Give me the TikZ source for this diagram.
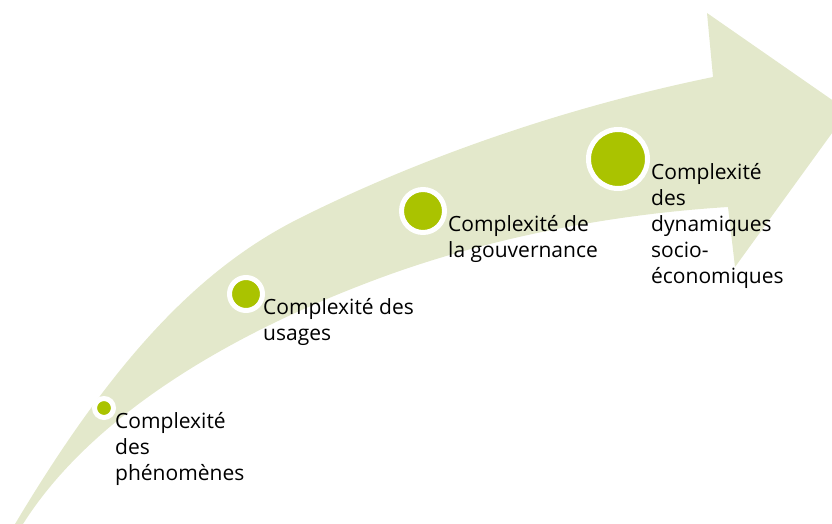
\documentclass[tikz,border=0pt]{standalone}
\usepackage{fontspec}
\setmainfont{Open Sans}
\definecolor{bandgreen}{RGB}{227,232,203}
\definecolor{dotgreen}{RGB}{170,195,0}
\tikzset{DOT/.style={circle,draw=white,line width=5pt,fill=dotgreen,inner sep=0pt}}

\begin{document}
\begin{tikzpicture}[x=1pt,y=-1pt]
	\tikzstyle{LBL} = [anchor=north west, inner sep=0pt, align=left, font=\fontsize{21}{26}\selectfont]
	
	\useasboundingbox (0,0) rectangle (832,524);
	\clip (0,0) rectangle (832,524);
	
	\fill [bandgreen] (5,542) -- (15,524) .. controls (112.6,360.8) and (198,269) .. (300,218)
		.. controls (424.1,156) and (568.6,106.6) .. (713,77)
		-- (707,13) -- (848,111) -- (735,267) -- (728,207)
		.. controls (606,214.6) and (484.3,239.4) .. (380,278)
		.. controls (208.8,341.3) and (83.9,427.4) .. (23,524) -- (12,542) -- cycle;
	
	\node[DOT, minimum size=19pt] (phen) at (104,408) {};
	\node[LBL] (phenT) at (115,412) {Complexité\\des\\phénomènes};
	
	\node[DOT, minimum size=33pt] (usag) at (246,294) {};
	\node[LBL] (usagT) at (263,298) {Complexité des\\usages};
	
	\node[DOT, minimum size=43pt] (gouv) at (423,211) {};
	\node[LBL] (gouvT) at (448,215) {Complexité de\\la gouvernance};
	
	\node[DOT, minimum size=59pt] (dyna) at (618,159) {};
	\node[LBL] (dynaT) at (651,163) {Complexité\\des\\dynamiques\\socio-\\économiques};
	
\end{tikzpicture}
\end{document}
